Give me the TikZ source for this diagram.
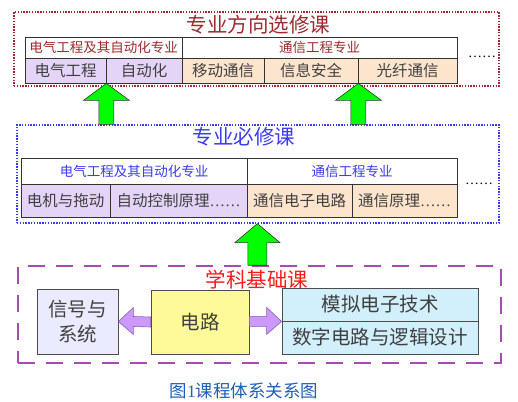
\documentclass[tikz,border=0pt]{standalone}
\usepackage{fontspec}
\setmainfont{Noto Sans CJK SC}
\newfontfamily\latinf{Liberation Serif}
\usetikzlibrary{calc}
\definecolor{tred}{HTML}{9E2A2F}
\definecolor{tblue}{HTML}{3B3BF5}
\definecolor{bpurple}{HTML}{A64CB0}
\definecolor{lav}{HTML}{E4D4F7}
\definecolor{peach}{HTML}{FDE4CC}
\definecolor{txt}{HTML}{404040}
\definecolor{grn}{HTML}{00FF00}
\definecolor{parrow}{HTML}{CC99FF}
\definecolor{parrowd}{HTML}{8E5BB5}
\definecolor{capblue}{HTML}{1F5FB8}
\tikzset{
  cellbox/.style={draw=black!80, line width=0.8pt, inner sep=0pt, text=txt, font=\fontsize{15.5}{17}\selectfont},
  headbox/.style={draw=black!80, line width=0.8pt, inner sep=0pt, fill=white, font=\fontsize{13.5}{15}\selectfont},
  framebox/.style={inner sep=0pt, line width=1.2pt},
  bigbox/.style={draw=black!70, line width=0.8pt, inner sep=0pt, text=txt, font=\fontsize{19.5}{23}\selectfont, align=center},
  titletext/.style={font=\fontsize{20.5}{23}\selectfont},
  greenarrow/.style={fill=grn, draw=black!80, line width=0.6pt},
  purplearrow/.style={fill=parrow, draw=parrowd, line width=0.6pt}
}
\begin{document}
\begin{tikzpicture}[x=1pt,y=-1pt]
\useasboundingbox[fill=white] (0,0) rectangle (518,401);
% frames
\node[framebox, draw=tred, dash pattern=on 1.4pt off 1.4pt, minimum width=485pt, minimum height=74pt] (top) at (256.5,49) {};
\node[framebox, draw=tblue, dash pattern=on 1.4pt off 1.4pt, minimum width=482pt, minimum height=98pt] (mid) at (258,174) {};
\node[framebox, draw=bpurple, line width=1.6pt, dash pattern=on 17pt off 11pt, minimum width=483pt, minimum height=97pt] (bot) at (259.5,314.5) {};
% titles
\node[titletext, text=tred] (ttop) at (258.5,25) {专业方向选修课};
\node[titletext, text=tblue] (tmid) at (244,137) {专业必修课};
\node[titletext, text=red!90!white] (tbot) at (257,280) {学科基础课};
% top table
\node[headbox, text=tred, minimum width=157pt, minimum height=21pt] (th1) at (103.5,47.5) {电气工程及其自动化专业};
\node[headbox, text=tred, minimum width=275pt, minimum height=21pt] (th2) at (319.5,47.5) {通信工程专业};
\node[cellbox, fill=lav, minimum width=81pt, minimum height=25pt] (tc1) at (65.5,70.5) {电气工程};
\node[cellbox, fill=lav, minimum width=76pt, minimum height=25pt] (tc2) at (144,70.5) {自动化};
\node[cellbox, fill=peach, minimum width=82pt, minimum height=25pt] (tc3) at (223,70.5) {移动通信};
\node[cellbox, fill=peach, minimum width=94pt, minimum height=25pt] (tc4) at (311,70.5) {信息安全};
\node[cellbox, fill=peach, minimum width=99pt, minimum height=25pt] (tc5) at (407.5,70.5) {光纤通信};
\node[font=\latinf\fontsize{14}{14}\selectfont, inner sep=0pt] (tdots) at (482,57) {……};
% middle table
\node[headbox, text=tblue, minimum width=226pt, minimum height=26pt] (mh1) at (134,171) {电气工程及其自动化专业};
\node[headbox, text=tblue, minimum width=210pt, minimum height=26pt] (mh2) at (352,171) {通信工程专业};
\node[cellbox, fill=lav, minimum width=89pt, minimum height=33pt] (mc1) at (65.5,200.5) {电机与拖动};
\node[cellbox, fill=lav, minimum width=137pt, minimum height=33pt] (mc2) at (178.5,200.5) {自动控制原理{\latinf ……}};
\node[cellbox, fill=peach, minimum width=105pt, minimum height=33pt] (mc3) at (299.5,200.5) {通信电子电路};
\node[cellbox, fill=peach, minimum width=105pt, minimum height=33pt] (mc4) at (404.5,200.5) {通信原理{\latinf ……}};
\node[font=\latinf\fontsize{14}{14}\selectfont, inner sep=0pt] (mdots) at (479,184) {……};
% bottom boxes
\node[bigbox, fill=blue!8!white, minimum width=81pt, minimum height=65pt] (sig) at (77.5,321.5) {信号与\\[2pt]系统};
\node[bigbox, fill=yellow!40!white, minimum width=98pt, minimum height=64pt] (circ) at (200,322) {电路};
\node[bigbox, fill=cyan!18!white, minimum width=196pt, minimum height=33pt] (ana) at (380,304.5) {模拟电子技术};
\node[bigbox, fill=cyan!18!white, minimum width=196pt, minimum height=33pt] (dig) at (380,337.5) {数字电路与逻辑设计};
% green arrows
\coordinate (t1) at (tc1.south east);
\coordinate (b1) at (tc1.south east |- mid.north);
\draw[greenarrow] (t1) -- ($(t1)+(23,17)$) -- ($(t1)+(7.5,17)$) -- ($(b1)+(7.5,0)$) -- ($(b1)+(-7.5,0)$) -- ($(t1)+(-7.5,17)$) -- ($(t1)+(-23,17)$) -- cycle;
\coordinate (t2) at (tc4.south east);
\coordinate (b2) at (tc4.south east |- mid.north);
\draw[greenarrow] (t2) -- ($(t2)+(23,17)$) -- ($(t2)+(7.5,17)$) -- ($(b2)+(7.5,0)$) -- ($(b2)+(-7.5,0)$) -- ($(t2)+(-7.5,17)$) -- ($(t2)+(-23,17)$) -- cycle;
\coordinate (t3) at ($(mid.south west)+(241,0)$);
\coordinate (b3) at (t3 |- bot.north);
\draw[greenarrow] (t3) -- ($(t3)+(22.5,19)$) -- ($(t3)+(9.5,19)$) -- ($(b3)+(9.5,0)$) -- ($(b3)+(-9.5,0)$) -- ($(t3)+(-9.5,19)$) -- ($(t3)+(-22.5,19)$) -- cycle;
% purple arrows
\draw[purplearrow] (sig.east) -- ($(sig.east)+(15,-14)$) -- ($(sig.east)+(15,-5)$) -- ($(circ.west)+(0,-5)$) -- ($(circ.west)+(0,5)$) -- ($(sig.east)+(15,5)$) -- ($(sig.east)+(15,13)$) -- cycle;
\coordinate (pr) at (ana.south west);
\draw[purplearrow] (pr) -- ($(pr)+(-15,-14)$) -- ($(pr)+(-15,-5)$) -- ($(circ.east |- pr)+(0,-5)$) -- ($(circ.east |- pr)+(0,5)$) -- ($(pr)+(-15,5)$) -- ($(pr)+(-15,13)$) -- cycle;
% caption
\node[font=\fontsize{17.5}{20}\selectfont, text=capblue, inner sep=0pt] (cap) at (244,391) {图{\latinf 1}课程体系关系图};
\end{tikzpicture}
\end{document}
